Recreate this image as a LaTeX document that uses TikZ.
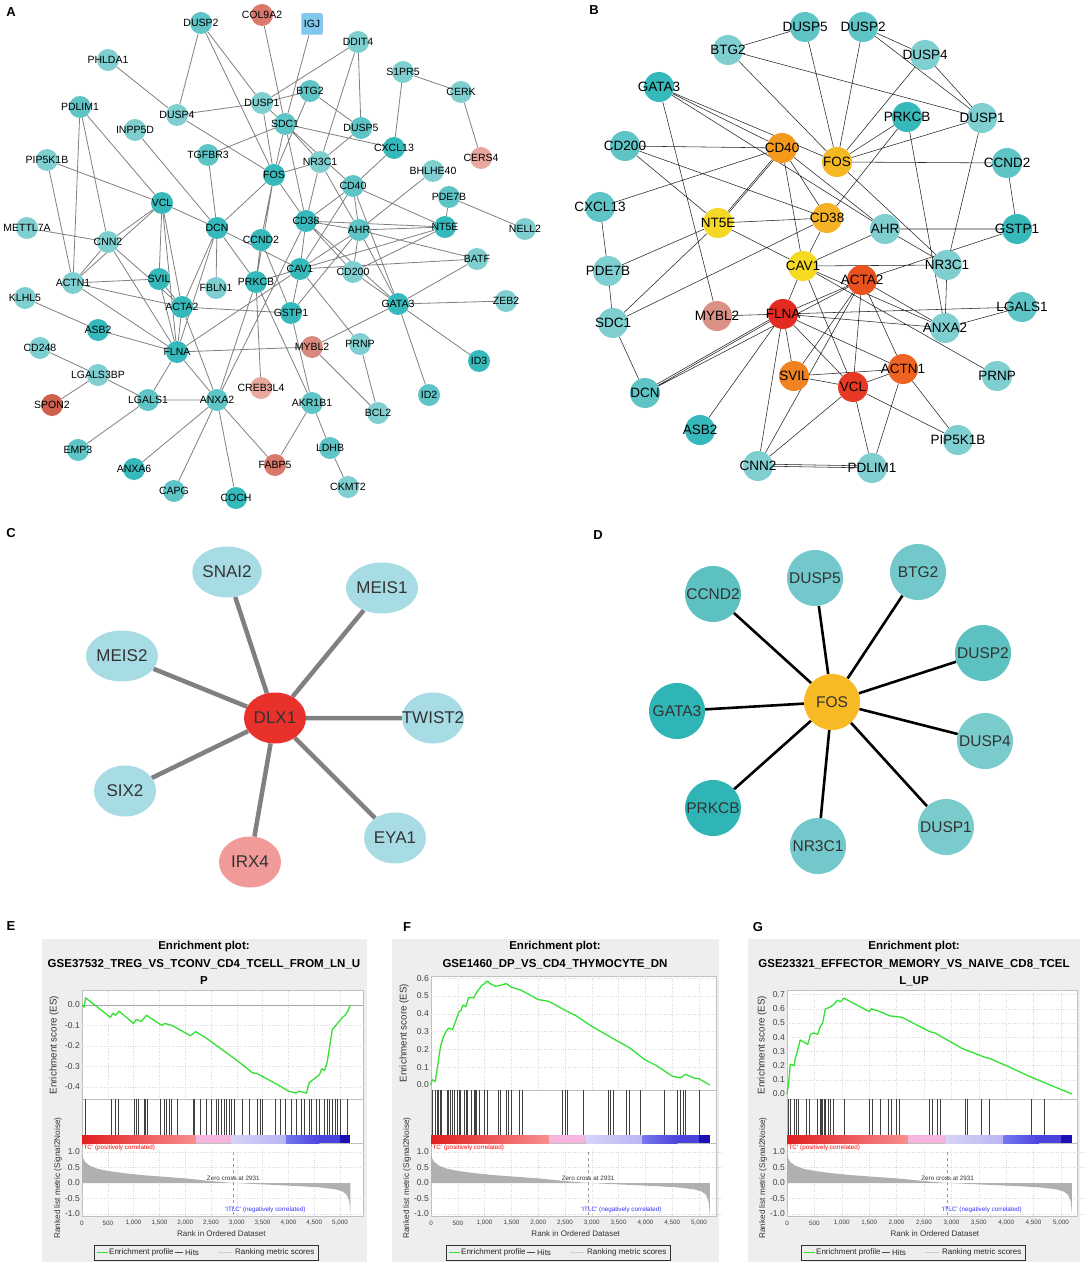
\documentclass[tikz,border=0pt]{standalone}
\usepackage{fontspec}
\setmainfont{Liberation Sans}
\usetikzlibrary{shapes.geometric}
\usetikzlibrary{backgrounds}

\definecolor{tl}{HTML}{80CFD0}
\definecolor{tm}{HTML}{5EC4C5}
\definecolor{td}{HTML}{35B9BA}
\definecolor{rA}{HTML}{D9786B}
\definecolor{rB}{HTML}{E8A79F}
\definecolor{rC}{HTML}{D98A7E}
\definecolor{rD}{HTML}{D0604E}
\definecolor{igjblue}{HTML}{7FC8EE}
\definecolor{orangeA}{HTML}{F39A1D}
\definecolor{orangeB}{HTML}{F6B822}
\definecolor{orangeC}{HTML}{F5B225}
\definecolor{orangeD}{HTML}{EE6322}
\definecolor{orangeE}{HTML}{F08222}
\definecolor{yellowA}{HTML}{F5D725}
\definecolor{yellowB}{HTML}{F6DA1F}
\definecolor{redA}{HTML}{E9521E}
\definecolor{redB}{HTML}{E52A22}
\definecolor{redC}{HTML}{E73924}
\definecolor{pinkA}{HTML}{DA9287}
\definecolor{cblue}{HTML}{A8DCE5}
\definecolor{cred}{HTML}{E8312A}
\definecolor{cpink}{HTML}{F09A9A}
\definecolor{dfos}{HTML}{F7B924}
\definecolor{dA}{HTML}{72C8CA}
\definecolor{dB}{HTML}{5DC1C2}
\definecolor{dC}{HTML}{2FB5B5}
\definecolor{dD}{HTML}{7ACBCC}
\definecolor{boxgray}{HTML}{EEEEEE}
\definecolor{rankgray}{HTML}{B0B0B0}
\definecolor{esgreen}{HTML}{33E033}
\definecolor{barA}{HTML}{E01E20}
\definecolor{barB}{HTML}{F78F8F}
\definecolor{barC}{HTML}{F4B6DE}
\definecolor{barD}{HTML}{D6D4F8}
\definecolor{barE}{HTML}{B9B5F4}
\definecolor{barF}{HTML}{7676EE}
\definecolor{barG}{HTML}{4A44DC}
\definecolor{barH}{HTML}{1C0FB4}

\newcommand{\nm}[1]{\makebox[0pt]{#1}}

\tikzset{
  plabel/.style={font=\fontsize{13}{15}\selectfont\bfseries},
  anode/.style={circle, inner sep=0pt, minimum size=22pt, font=\fontsize{10.5}{12}\selectfont},
  aedge/.style={draw=black!50, line width=0.8pt},
  bnode/.style={circle, inner sep=0pt, minimum size=30pt, font=\fontsize{13.5}{15}\selectfont},
  bedge/.style={draw=black!85, line width=0.55pt},
  cnode/.style={ellipse, inner sep=0pt, minimum width=62pt, minimum height=51pt, text=black!80, font=\fontsize{17}{20}\selectfont},
  cedge/.style={draw=black!50, line width=4.5pt},
  dnode/.style={circle, inner sep=0pt, minimum size=56pt, text=black!80, font=\fontsize{15.5}{18}\selectfont},
  dedge/.style={draw=black, line width=2.6pt},
  gtitle/.style={font=\fontsize{11.5}{13}\selectfont\bfseries},
  gridline/.style={draw=black!15, dotted, line width=0.4pt},
  sepline/.style={draw=black!25, line width=0.4pt},
  esline/.style={draw=esgreen, line width=1.3pt, line join=round},
  hitline/.style={draw=black!75, line width=0.7pt},
  ytick/.style={anchor=east, inner sep=2pt, text=black!75, font=\fontsize{8.5}{9}\selectfont},
  xtick/.style={inner sep=0pt, text=black!75, font=\fontsize{6.3}{7}\selectfont},
  axlab/.style={inner sep=0pt, text=black!80, font=\fontsize{8}{9}\selectfont},
  ylab/.style={inner sep=0pt, text=black!80, font=\fontsize{9.8}{11}\selectfont},
  rlab/.style={inner sep=0pt, text=black!80, font=\fontsize{8.2}{9}\selectfont},
  tinylab/.style={inner sep=0pt, font=\fontsize{6.3}{7}\selectfont},
  leglab/.style={anchor=west, inner sep=0pt, text=black!85, font=\fontsize{8}{9}\selectfont},
}

% hits, colour bar, ranked list and legend of one enrichment plot
% #1 x of rank 0, #2 pt per rank, #3 plot right, #4 legend left, #5 hits top, #6 hits
\newcommand{\gseabottom}[6]{%
  \draw[sepline] (#1,#5) -- (#3,#5);
  \draw[sepline] (#1,1143) -- (#3,1143);
  \begin{scope}[shift={(#1,0)}, x=#2pt]
    \foreach \h in {#6} \draw[hitline] (\h,#5) -- (\h,1135);
    \shade[left color=barA, right color=barB] (0,1135) rectangle (2200,1143);
    \fill[barC] (2200,1135) rectangle (2900,1143);
    \shade[left color=barD, right color=barE] (2900,1135) rectangle (3950,1143);
    \shade[left color=barF, right color=barG] (3950,1135) rectangle (4600,1143);
    \fill[barG] (4600,1135) rectangle (5000,1143);
    \fill[barH] (5000,1135) rectangle (5200,1143);
    \foreach \rk/\lb in {0/0,500/500,1000/{1,000},1500/{1,500},2000/{2,000},2500/{2,500},3000/{3,000},3500/{3,500},4000/{4,000},4500/{4,500},5000/{5,000}}
      \node[xtick] at (\rk,1223) {\lb};
    \node[axlab] at (2700,1234) {Rank in Ordered Dataset};
    \node[rlab, rotate=90] at ([xshift=-24pt]0,1178) {Ranked list metric (Signal2Noise)};
  \end{scope}
  \begin{scope}[shift={(#1,1183)}, x=#2pt, y=31pt]
    \foreach \rk in {500,1000,...,5000} \draw[gridline] (\rk,1.05) -- (\rk,-1.06);
    \foreach \val in {-1,-0.5,0.5,1} \draw[gridline] (0,\val) -- (5440,\val);
    \fill[rankgray] (0,0) -- (0,1.0) -- (20,0.8) -- (60,0.68) -- (150,0.56) -- (300,0.46)
      -- (500,0.39) -- (800,0.32) -- (1200,0.25) -- (1600,0.2) -- (2000,0.15) -- (2400,0.08)
      -- (2700,0.035) -- (2931,0) -- (3200,-0.02) -- (3700,-0.06) -- (4200,-0.1) -- (4600,-0.14)
      -- (4900,-0.2) -- (5050,-0.27) -- (5130,-0.38) -- (5180,-0.6) -- (5200,-1.0) -- (5200,0) -- cycle;
    \draw[black!40, dashed, line width=0.4pt] (2931,1.0) -- (2931,-1.06);
    \node[tinylab, text=red, anchor=west] at (0,1.14) {'TC' (positively correlated)};
    \node[tinylab, text=black!80] at (2931,0.16) {Zero cross at 2931};
    \node[tinylab, text=blue!80] at (3550,-0.87) {'ITLC' (negatively correlated)};
    \foreach \val/\lb in {1/1.0,0.5/0.5,0/0.0,-0.5/-0.5,-1/-1.0} \node[ytick] at (0,\val) {\lb};
  \end{scope}
  \begin{scope}[shift={(#4,1245)}]
    \draw[black!80, line width=0.6pt] (0,0) rectangle (224,15);
    \draw[esline] (3,7.5) -- (14,7.5);
    \node[leglab] at (15,7.5) {Enrichment profile};
    \draw[black!70, line width=1pt] (81,7.5) -- (89,7.5);
    \node[leglab] at (91,7.5) {Hits};
    \draw[black!20, line width=1pt] (124,7.5) -- (138,7.5);
    \node[leglab] at (141,7.5) {Ranking metric scores};
  \end{scope}
}

\begin{document}
\begin{tikzpicture}[x=1pt, y=-1pt]
  \useasboundingbox (0,0) rectangle (1088,1265);
  \begin{scope}[on background layer]
    \fill[white] (0,0) rectangle (1088,1265);
  \end{scope}

  \node[plabel] at (11,12) {A};
  \node[plabel] at (594,10) {B};
  \node[plabel] at (11,533) {C};
  \node[plabel] at (598,535) {D};
  \node[plabel] at (11,926) {E};
  \node[plabel] at (407,927) {F};
  \node[plabel] at (758,927) {G};

  % panel A
  \node[anode, fill=tm] (aDUSP2) at (201,23) {\nm{DUSP2}};
  \node[anode, fill=rA] (aCOL9A2) at (262,15) {\nm{COL9A2}};
  \node[anode, rectangle, rounded corners=2pt, minimum size=21pt, fill=igjblue, draw=igjblue!85!blue] (aIGJ) at (312,24) {\nm{IGJ}};
  \node[anode, fill=tl] (aPHLDA1) at (108,60) {\nm{PHLDA1}};
  \node[anode, fill=tl] (aDDIT4) at (358,42) {\nm{DDIT4}};
  \node[anode, fill=tl] (aS1PR5) at (403,72) {\nm{S1PR5}};
  \node[anode, fill=tl] (aCERK) at (461,92) {\nm{CERK}};
  \node[anode, fill=tm] (aBTG2) at (310,91) {\nm{BTG2}};
  \node[anode, fill=tl] (aDUSP1) at (262,103) {\nm{DUSP1}};
  \node[anode, fill=tm] (aPDLIM1) at (80,107) {\nm{PDLIM1}};
  \node[anode, fill=tl] (aDUSP4) at (177,115) {\nm{DUSP4}};
  \node[anode, fill=tm] (aSDC1) at (285,124) {\nm{SDC1}};
  \node[anode, fill=tm] (aDUSP5) at (361,128) {\nm{DUSP5}};
  \node[anode, fill=tl] (aINPP5D) at (135,130) {\nm{INPP5D}};
  \node[anode, fill=td] (aCXCL13) at (394,148) {\nm{CXCL13}};
  \node[anode, fill=tm] (aTGFBR3) at (208,155) {\nm{TGFBR3}};
  \node[anode, fill=rB] (aCERS4) at (481,158) {\nm{CERS4}};
  \node[anode, fill=tl] (aPIP5K1B) at (47,160) {\nm{PIP5K1B}};
  \node[anode, fill=tl] (aNR3C1) at (320,162) {\nm{NR3C1}};
  \node[anode, fill=tl] (aBHLHE40) at (433,171) {\nm{BHLHE40}};
  \node[anode, fill=td] (aFOS) at (274,175) {\nm{FOS}};
  \node[anode, fill=tm] (aCD40) at (353,186) {\nm{CD40}};
  \node[anode, fill=tm] (aPDE7B) at (449,197) {\nm{PDE7B}};
  \node[anode, fill=td] (aVCL) at (162,203) {\nm{VCL}};
  \node[anode, fill=td] (aCD38) at (306,221) {\nm{CD38}};
  \node[anode, fill=td] (aNT5E) at (445,227) {\nm{NT5E}};
  \node[anode, fill=tl] (aMETTL7A) at (27,228) {\nm{METTL7A}};
  \node[anode, fill=td] (aDCN) at (217,228) {\nm{DCN}};
  \node[anode, fill=tl] (aNELL2) at (525,229) {\nm{NELL2}};
  \node[anode, fill=tm] (aAHR) at (359,230) {\nm{AHR}};
  \node[anode, fill=td] (aCCND2) at (261,240) {\nm{CCND2}};
  \node[anode, fill=tl] (aCNN2) at (108,242) {\nm{CNN2}};
  \node[anode, fill=tl] (aBATF) at (477,259) {\nm{BATF}};
  \node[anode, fill=td] (aCAV1) at (300,269) {\nm{CAV1}};
  \node[anode, fill=tl] (aCD200) at (353,272) {\nm{CD200}};
  \node[anode, fill=td] (aSVIL) at (159,279) {\nm{SVIL}};
  \node[anode, fill=td] (aPRKCB) at (256,282) {\nm{PRKCB}};
  \node[anode, fill=tl] (aACTN1) at (73,283) {\nm{ACTN1}};
  \node[anode, fill=tl] (aFBLN1) at (216,288) {\nm{FBLN1}};
  \node[anode, fill=tl] (aKLHL5) at (25,298) {\nm{KLHL5}};
  \node[anode, fill=tl] (aZEB2) at (506,301) {\nm{ZEB2}};
  \node[anode, fill=td] (aGATA3) at (398,304) {\nm{GATA3}};
  \node[anode, fill=td] (aACTA2) at (182,307) {\nm{ACTA2}};
  \node[anode, fill=td] (aGSTP1) at (291,313) {\nm{GSTP1}};
  \node[anode, fill=td] (aASB2) at (98,330) {\nm{ASB2}};
  \node[anode, fill=tl] (aPRNP) at (360,344) {\nm{PRNP}};
  \node[anode, fill=rC] (aMYBL2) at (312,347) {\nm{MYBL2}};
  \node[anode, fill=tl] (aCD248) at (40,348) {\nm{CD248}};
  \node[anode, fill=td] (aFLNA) at (177,352) {\nm{FLNA}};
  \node[anode, fill=td] (aID3) at (479,361) {\nm{ID3}};
  \node[anode, fill=tl] (aLGALS3BP) at (98,375) {\nm{LGALS3BP}};
  \node[anode, fill=rB] (aCREB3L4) at (261,388) {\nm{CREB3L4}};
  \node[anode, fill=tm] (aID2) at (429,395) {\nm{ID2}};
  \node[anode, fill=tm] (aLGALS1) at (148,400) {\nm{LGALS1}};
  \node[anode, fill=tm] (aANXA2) at (217,400) {\nm{ANXA2}};
  \node[anode, fill=tm] (aAKR1B1) at (312,403) {\nm{AKR1B1}};
  \node[anode, fill=rD] (aSPON2) at (52,405) {\nm{SPON2}};
  \node[anode, fill=tl] (aBCL2) at (378,413) {\nm{BCL2}};
  \node[anode, fill=tm] (aLDHB) at (330,448) {\nm{LDHB}};
  \node[anode, fill=tm] (aEMP3) at (78,450) {\nm{EMP3}};
  \node[anode, fill=rA] (aFABP5) at (275,465) {\nm{FABP5}};
  \node[anode, fill=td] (aANXA6) at (134,469) {\nm{ANXA6}};
  \node[anode, fill=tl] (aCKMT2) at (348,487) {\nm{CKMT2}};
  \node[anode, fill=tm] (aCAPG) at (174,491) {\nm{CAPG}};
  \node[anode, fill=td] (aCOCH) at (236,498) {\nm{COCH}};

  \begin{scope}[on background layer]
    \draw[aedge] (aDUSP2) -- (aDUSP4) (aDUSP2) -- (aDUSP1) (aDUSP2) -- (aFOS) (aCOL9A2) -- (aSDC1)
      (aIGJ) -- (aSDC1) (aPHLDA1) -- (aDUSP4) (aDUSP4) -- (aDUSP1) (aDUSP4) -- (aFOS)
      (aDUSP1) -- (aSDC1) (aDUSP1) -- (aFOS) (aDUSP1) -- (aDDIT4) (aDUSP1) -- (aBTG2)
      (aDDIT4) -- (aDUSP5) (aDDIT4) -- (aNR3C1) (aS1PR5) -- (aCERK) (aS1PR5) -- (aCXCL13)
      (aCERK) -- (aCERS4) (aBTG2) -- (aFOS) (aBTG2) -- (aDUSP5) (aSDC1) -- (aCXCL13)
      (aSDC1) -- (aFOS) (aSDC1) -- (aNR3C1) (aSDC1) -- (aCD40) (aSDC1) -- (aCD38)
      (aTGFBR3) -- (aSDC1) (aTGFBR3) -- (aDCN) (aDUSP5) -- (aNR3C1) (aCXCL13) -- (aCD40)
      (aNR3C1) -- (aFOS) (aNR3C1) -- (aCD38) (aNR3C1) -- (aAHR) (aBHLHE40) -- (aAHR)
      (aPDE7B) -- (aNT5E) (aPDE7B) -- (aNELL2) (aCD40) -- (aNT5E) (aCD40) -- (aCD38)
      (aCD40) -- (aAHR) (aCD40) -- (aCAV1) (aCD40) -- (aGATA3) (aCD38) -- (aAHR)
      (aCD38) -- (aNT5E) (aCD38) -- (aCAV1) (aCD38) -- (aCD200) (aCD38) -- (aGATA3)
      (aAHR) -- (aNT5E) (aAHR) -- (aBATF) (aAHR) -- (aCAV1) (aAHR) -- (aCD200)
      (aAHR) -- (aGATA3) (aAHR) -- (aGSTP1) (aNT5E) -- (aCAV1) (aCD200) -- (aNT5E)
      (aCD200) -- (aGATA3) (aFOS) -- (aCD38) (aFOS) -- (aCCND2) (aFOS) -- (aDCN)
      (aFOS) -- (aPRKCB) (aCCND2) -- (aPRKCB) (aCCND2) -- (aGSTP1) (aPDLIM1) -- (aVCL)
      (aPDLIM1) -- (aCNN2) (aPDLIM1) -- (aACTN1) (aINPP5D) -- (aDCN) (aPIP5K1B) -- (aVCL)
      (aPIP5K1B) -- (aACTN1) (aMETTL7A) -- (aCNN2) (aVCL) -- (aCNN2) (aVCL) -- (aDCN)
      (aVCL) -- (aSVIL) (aVCL) -- (aACTA2) (aVCL) -- (aFLNA) (aACTN1) -- (aVCL)
      (aDCN) -- (aCAV1) (aDCN) -- (aFBLN1) (aDCN) -- (aACTA2) (aDCN) -- (aFLNA)
      (aDCN) -- (aPRKCB) (aCAV1) -- (aBATF) (aCAV1) -- (aPRNP) (aCAV1) -- (aGSTP1)
      (aCAV1) -- (aPRKCB) (aCAV1) -- (aFLNA) (aGATA3) -- (aBATF) (aGATA3) -- (aZEB2)
      (aGATA3) -- (aID3) (aGATA3) -- (aID2) (aGATA3) -- (aMYBL2) (aGSTP1) -- (aAKR1B1)
      (aACTA2) -- (aGSTP1) (aMYBL2) -- (aBCL2) (aMYBL2) -- (aFLNA) (aPRNP) -- (aBCL2)
      (aAKR1B1) -- (aFABP5) (aAKR1B1) -- (aLDHB) (aLDHB) -- (aCKMT2) (aPRKCB) -- (aAKR1B1)
      (aPRKCB) -- (aCREB3L4) (aPRKCB) -- (aANXA2) (aACTN1) -- (aSVIL) (aACTN1) -- (aACTA2)
      (aACTN1) -- (aFLNA) (aACTN1) -- (aCNN2) (aCNN2) -- (aFLNA) (aCNN2) -- (aACTA2)
      (aSVIL) -- (aACTA2) (aSVIL) -- (aFLNA) (aACTA2) -- (aFLNA) (aKLHL5) -- (aASB2)
      (aASB2) -- (aFLNA) (aCD248) -- (aLGALS3BP) (aLGALS3BP) -- (aLGALS1) (aLGALS3BP) -- (aSPON2)
      (aLGALS1) -- (aANXA2) (aLGALS1) -- (aFLNA) (aLGALS1) -- (aEMP3) (aANXA2) -- (aFLNA)
      (aANXA2) -- (aACTA2) (aANXA2) -- (aANXA6) (aANXA2) -- (aCAPG) (aANXA2) -- (aCOCH)
      (aANXA2) -- (aFABP5) (aANXA2) -- (aCD38);
  \end{scope}

  % panel B
  \node[bnode, fill=tm] (bDUSP5) at (805,27) {\nm{DUSP5}};
  \node[bnode, fill=tm] (bDUSP2) at (863,27) {\nm{DUSP2}};
  \node[bnode, fill=tl] (bBTG2) at (728,50) {\nm{BTG2}};
  \node[bnode, fill=tl] (bDUSP4) at (925,55) {\nm{DUSP4}};
  \node[bnode, fill=td] (bGATA3) at (659,87) {\nm{GATA3}};
  \node[bnode, fill=td] (bPRKCB) at (907,117) {\nm{PRKCB}};
  \node[bnode, fill=tl] (bDUSP1) at (982,118) {\nm{DUSP1}};
  \node[bnode, fill=tm] (bCD200) at (625,146) {\nm{CD200}};
  \node[bnode, fill=orangeA] (bCD40) at (782,148) {\nm{CD40}};
  \node[bnode, fill=orangeB] (bFOS) at (837,162) {\nm{FOS}};
  \node[bnode, fill=tm] (bCCND2) at (1007,163) {\nm{CCND2}};
  \node[bnode, fill=tm] (bCXCL13) at (600,207) {\nm{CXCL13}};
  \node[bnode, fill=orangeC] (bCD38) at (827,218) {\nm{CD38}};
  \node[bnode, fill=yellowA] (bNT5E) at (718,223) {\nm{NT5E}};
  \node[bnode, fill=tl] (bAHR) at (885,229) {\nm{AHR}};
  \node[bnode, fill=td] (bGSTP1) at (1017,229) {\nm{GSTP1}};
  \node[bnode, fill=yellowB] (bCAV1) at (803,266) {\nm{CAV1}};
  \node[bnode, fill=tl] (bNR3C1) at (947,265) {\nm{NR3C1}};
  \node[bnode, fill=tl] (bPDE7B) at (608,271) {\nm{PDE7B}};
  \node[bnode, fill=redA] (bACTA2) at (862,280) {\nm{ACTA2}};
  \node[bnode, fill=tm] (bLGALS1) at (1022,307) {\nm{LGALS1}};
  \node[bnode, fill=redB] (bFLNA) at (783,314) {\nm{FLNA}};
  \node[bnode, fill=pinkA] (bMYBL2) at (717,316) {\nm{MYBL2}};
  \node[bnode, fill=tl] (bSDC1) at (613,323) {\nm{SDC1}};
  \node[bnode, fill=tl] (bANXA2) at (945,328) {\nm{ANXA2}};
  \node[bnode, fill=orangeD] (bACTN1) at (903,369) {\nm{ACTN1}};
  \node[bnode, fill=orangeE] (bSVIL) at (794,376) {\nm{SVIL}};
  \node[bnode, fill=tl] (bPRNP) at (997,376) {\nm{PRNP}};
  \node[bnode, fill=redC] (bVCL) at (853,387) {\nm{VCL}};
  \node[bnode, fill=tm] (bDCN) at (645,393) {\nm{DCN}};
  \node[bnode, fill=td] (bASB2) at (700,430) {\nm{ASB2}};
  \node[bnode, fill=tl] (bPIP5K1B) at (958,440) {\nm{PIP5K1B}};
  \node[bnode, fill=tl] (bCNN2) at (758,466) {\nm{CNN2}};
  \node[bnode, fill=tl] (bPDLIM1) at (872,468) {\nm{PDLIM1}};

  \begin{scope}[on background layer]
    \draw[bedge] (bDUSP5) -- (bBTG2) (bDUSP5) -- (bFOS) (bDUSP2) -- (bFOS) (bDUSP2) -- (bDUSP4)
      (bDUSP2) -- (bDUSP1) (bBTG2) -- (bFOS) (bBTG2) -- (bDUSP1) (bDUSP4) -- (bFOS)
      (bDUSP4) -- (bDUSP1) (bGATA3) -- (bCD40) (bGATA3) -- (bFOS) (bGATA3) -- (bAHR)
      (bGATA3) -- (bMYBL2) (bPRKCB) -- (bFOS) (bPRKCB) -- (bCD38) (bPRKCB) -- (bANXA2)
      (bDUSP1) -- (bFOS) (bDUSP1) -- (bNR3C1) (bCD200) -- (bCD40) (bCD200) -- (bNT5E)
      (bCD200) -- (bCD38) (bCD40) -- (bCXCL13) (bCD40) -- (bNT5E) (bCD40) -- (bCD38)
      (bCD40) -- (bCAV1) (bCD40) -- (bAHR) (bFOS) -- (bCCND2) (bFOS) -- (bNR3C1)
      (bCCND2) -- (bGSTP1) (bCXCL13) -- (bPDE7B) (bNT5E) -- (bCD38) (bNT5E) -- (bCAV1)
      (bNT5E) -- (bPDE7B) (bNT5E) -- (bSDC1) (bCD38) -- (bSDC1) (bCD38) -- (bCAV1)
      (bAHR) -- (bGSTP1) (bAHR) -- (bNR3C1) (bAHR) -- (bCAV1) (bGSTP1) -- (bACTA2)
      (bCAV1) -- (bNR3C1) (bCAV1) -- (bFLNA) (bCAV1) -- (bVCL) (bCAV1) -- (bANXA2)
      (bCAV1) -- (bPRNP) (bMYBL2) -- (bFLNA) (bSDC1) -- (bPDE7B) (bSDC1) -- (bDCN)
      (bFLNA) -- (bLGALS1) (bFLNA) -- (bANXA2) (bFLNA) -- (bACTA2) (bFLNA) -- (bDCN)
      (bFLNA) -- (bASB2) (bFLNA) -- (bCNN2) (bFLNA) -- (bSVIL) (bFLNA) -- (bVCL)
      (bFLNA) -- (bACTN1) (bACTA2) -- (bANXA2) (bACTA2) -- (bSVIL) (bACTA2) -- (bVCL)
      (bACTA2) -- (bACTN1) (bACTA2) -- (bCNN2) (bACTA2) -- (bDCN) (bNR3C1) -- (bANXA2)
      (bLGALS1) -- (bANXA2) (bSVIL) -- (bACTN1) (bSVIL) -- (bVCL) (bVCL) -- (bACTN1)
      (bVCL) -- (bCNN2) (bVCL) -- (bPDLIM1) (bVCL) -- (bPIP5K1B) (bACTN1) -- (bPDLIM1)
      (bACTN1) -- (bPIP5K1B) (bCNN2) -- (bPDLIM1);
    \draw[bedge] ([xshift=2pt]bCD40.center) -- ([xshift=2pt]bNT5E.center)
      ([yshift=2pt]bCNN2.center) -- ([yshift=2pt]bPDLIM1.center)
      ([yshift=2pt]bFLNA.center) -- ([yshift=2pt]bDCN.center);
  \end{scope}

  % panel C
  \node[cnode, fill=cred] (cDLX1) at (275,718) {DLX1};
  \node[cnode, fill=cblue] (cSNAI2) at (227,572) {SNAI2};
  \node[cnode, fill=cblue] (cMEIS1) at (382,588) {MEIS1};
  \node[cnode, fill=cblue] (cMEIS2) at (122,656) {MEIS2};
  \node[cnode, fill=cblue] (cTWIST2) at (433,718) {\nm{TWIST2}};
  \node[cnode, fill=cblue] (cSIX2) at (125,791) {SIX2};
  \node[cnode, fill=cblue] (cEYA1) at (395,838) {EYA1};
  \node[cnode, fill=cpink] (cIRX4) at (250,862) {IRX4};
  \begin{scope}[on background layer]
    \draw[cedge] (cDLX1) -- (cSNAI2) (cDLX1) -- (cMEIS1) (cDLX1) -- (cMEIS2) (cDLX1) -- (cTWIST2)
      (cDLX1) -- (cSIX2) (cDLX1) -- (cEYA1) (cDLX1) -- (cIRX4);
  \end{scope}

  % panel D
  \node[dnode, fill=dfos] (dFOS) at (832,702) {FOS};
  \node[dnode, fill=dA] (dDUSP5) at (815,578) {DUSP5};
  \node[dnode, fill=dA] (dBTG2) at (918,572) {BTG2};
  \node[dnode, fill=dB] (dCCND2) at (713,594) {CCND2};
  \node[dnode, fill=dB] (dDUSP2) at (983,653) {DUSP2};
  \node[dnode, fill=dC] (dGATA3) at (677,711) {GATA3};
  \node[dnode, fill=dD] (dDUSP4) at (985,741) {DUSP4};
  \node[dnode, fill=dC] (dPRKCB) at (713,808) {PRKCB};
  \node[dnode, fill=dA] (dNR3C1) at (818,846) {NR3C1};
  \node[dnode, fill=dD] (dDUSP1) at (946,827) {DUSP1};
  \begin{scope}[on background layer]
    \draw[dedge] (dFOS) -- (dDUSP5) (dFOS) -- (dBTG2) (dFOS) -- (dCCND2) (dFOS) -- (dDUSP2)
      (dFOS) -- (dGATA3) (dFOS) -- (dDUSP4) (dFOS) -- (dPRKCB) (dFOS) -- (dNR3C1) (dFOS) -- (dDUSP1);
  \end{scope}

  % panel E
  \fill[boxgray] (42,939) rectangle (367,1262);
  \fill[white] (82,990) rectangle (363,1216);
  \draw[sepline] (82,990) rectangle (363,1216);
  \node[gtitle] at (204,947) {Enrichment plot:};
  \node[gtitle] at (204,964) {GSE37532\_TREG\_VS\_TCONV\_CD4\_TCELL\_FROM\_LN\_U};
  \node[gtitle] at (204,981) {P};
  \begin{scope}[shift={(82,1005)}, x=0.0516pt, y=205pt]
    \foreach \rk in {500,1000,...,5000} \draw[gridline] (\rk,0.07) -- (\rk,-0.458);
    \foreach \val in {-0.1,-0.2,-0.3,-0.4} \draw[gridline] (0,\val) -- (5440,\val);
    \draw[black!35, line width=0.5pt] (0,0) -- (5440,0);
    \draw[esline] plot coordinates {(0,0) (40,-0.01) (70,0.035) (550,-0.06) (600,-0.04) (650,-0.05)
      (720,-0.03) (1000,-0.09) (1050,-0.07) (1150,-0.08) (1250,-0.05) (1550,-0.1) (1600,-0.09)
      (1750,-0.1) (2100,-0.15) (2200,-0.13) (2400,-0.16) (3000,-0.27) (3300,-0.33) (3400,-0.335)
      (3800,-0.39) (4000,-0.42) (4150,-0.43) (4200,-0.42) (4350,-0.43) (4400,-0.38) (4500,-0.36)
      (4600,-0.34) (4650,-0.31) (4700,-0.32) (4750,-0.28) (4800,-0.2) (4850,-0.12) (4950,-0.09)
      (5050,-0.06) (5100,-0.05) (5150,-0.03) (5200,0.0)};
    \foreach \val/\lb in {0/0.0,-0.1/-0.1,-0.2/-0.2,-0.3/-0.3,-0.4/-0.4} \node[ytick] at (0,\val) {\lb};
  \end{scope}
  \node[ylab, rotate=90] at (54,1045) {Enrichment score (ES)};
  \gseabottom{82}{0.0516}{363}{94}{1099}{60,570,640,700,1020,1060,1100,1200,1230,1260,1520,1600,1640,1700,1740,1850,2150,2170,2300,2400,2500,2600,2650,2700,2750,2800,2850,2900,2950,3100,3250,3400,3450,3500,3750,3850,3950,4050,4150,4250,4300,4400,4450,4550,4600,4700,4750,4800,4850,4900,4950,5000,5150}

  % panel F
  \fill[boxgray] (392,939) rectangle (719,1262);
  \fill[white] (431,976) rectangle (716,1216);
  \draw[sepline] (431,976) rectangle (716,1216);
  \node[gtitle] at (555,947) {Enrichment plot:};
  \node[gtitle] at (555,964) {GSE1460\_DP\_VS\_CD4\_THYMOCYTE\_DN};
  \begin{scope}[shift={(431,1085)}, x=0.0536pt, y=178pt]
    \foreach \rk in {500,1000,...,5000} \draw[gridline] (\rk,0.61) -- (\rk,-0.028);
    \foreach \val in {0.1,0.2,0.3,0.4,0.5,0.6} \draw[gridline] (0,\val) -- (5300,\val);
    \draw[esline] plot coordinates {(0,0) (20,0.03) (80,0.02) (120,0.1) (180,0.22) (230,0.27)
      (280,0.3) (330,0.32) (400,0.31) (450,0.35) (520,0.41) (560,0.42) (600,0.45) (650,0.44)
      (700,0.49) (800,0.49) (850,0.52) (950,0.56) (1000,0.57) (1050,0.585) (1100,0.57) (1200,0.555)
      (1300,0.56) (1400,0.57) (1500,0.55) (1700,0.53) (2000,0.48) (2200,0.47) (2500,0.42)
      (2700,0.39) (3000,0.33) (3400,0.26) (3700,0.21) (4000,0.14) (4200,0.11) (4500,0.05)
      (4650,0.04) (4750,0.06) (4900,0.04) (5000,0.035) (5200,0.0)};
    \foreach \val/\lb in {0/0.0,0.1/0.1,0.2/0.2,0.3/0.3,0.4/0.4,0.5/0.5,0.6/0.6} \node[ytick] at (0,\val) {\lb};
  \end{scope}
  \node[ylab, rotate=90] at (404,1033) {Enrichment score (ES)};
  \gseabottom{431}{0.0536}{716}{446}{1090}{30,80,110,130,170,200,300,320,360,400,430,500,520,550,630,660,680,750,800,820,850,900,1000,1050,1250,1300,1400,1450,1500,1650,1700,2450,2500,2550,2850,3300,3350,3400,3650,3700,3900,4350,4600,4650,4700,4750,5000}

  % panel G
  \fill[boxgray] (748,939) rectangle (1080,1262);
  \fill[white] (787,990) rectangle (1077,1216);
  \draw[sepline] (787,990) rectangle (1077,1216);
  \node[gtitle] at (914,947) {Enrichment plot:};
  \node[gtitle] at (914,964) {GSE23321\_EFFECTOR\_MEMORY\_VS\_NAIVE\_CD8\_TCEL};
  \node[gtitle] at (914,981) {L\_UP};
  \begin{scope}[shift={(787,1094)}, x=0.0548pt, y=142pt]
    \foreach \rk in {500,1000,...,5000} \draw[gridline] (\rk,0.73) -- (\rk,-0.035);
    \foreach \val in {0.1,0.2,0.3,0.4,0.5,0.6,0.7} \draw[gridline] (0,\val) -- (5290,\val);
    \draw[esline] plot coordinates {(0,0) (30,0.08) (60,0.21) (130,0.2) (150,0.25) (190,0.3)
      (240,0.38) (380,0.35) (430,0.42) (480,0.43) (560,0.42) (600,0.47) (650,0.5) (700,0.6)
      (780,0.61) (850,0.63) (920,0.66) (980,0.65) (1040,0.675) (1500,0.58) (1540,0.6) (1700,0.58)
      (1880,0.55) (2000,0.545) (2100,0.54) (2600,0.44) (2700,0.43) (3200,0.32) (3600,0.26)
      (3700,0.25) (4000,0.2) (4450,0.12) (4700,0.08) (5200,0.0)};
    \foreach \val/\lb in {0/0.0,0.1/0.1,0.2/0.2,0.3/0.3,0.4/0.4,0.5/0.5,0.6/0.6,0.7/0.7} \node[ytick] at (0,\val) {\lb};
  \end{scope}
  \node[ylab, rotate=90] at (762,1045) {Enrichment score (ES)};
  \gseabottom{787}{0.0548}{1077}{801}{1099}{20,60,130,170,200,350,400,550,600,630,650,680,700,750,800,850,1050,1500,1550,1700,1850,1900,2000,2050,2600,2650,2750,2800,3250,3300,3550,3700,4450,4700}
\end{tikzpicture}
\end{document}
